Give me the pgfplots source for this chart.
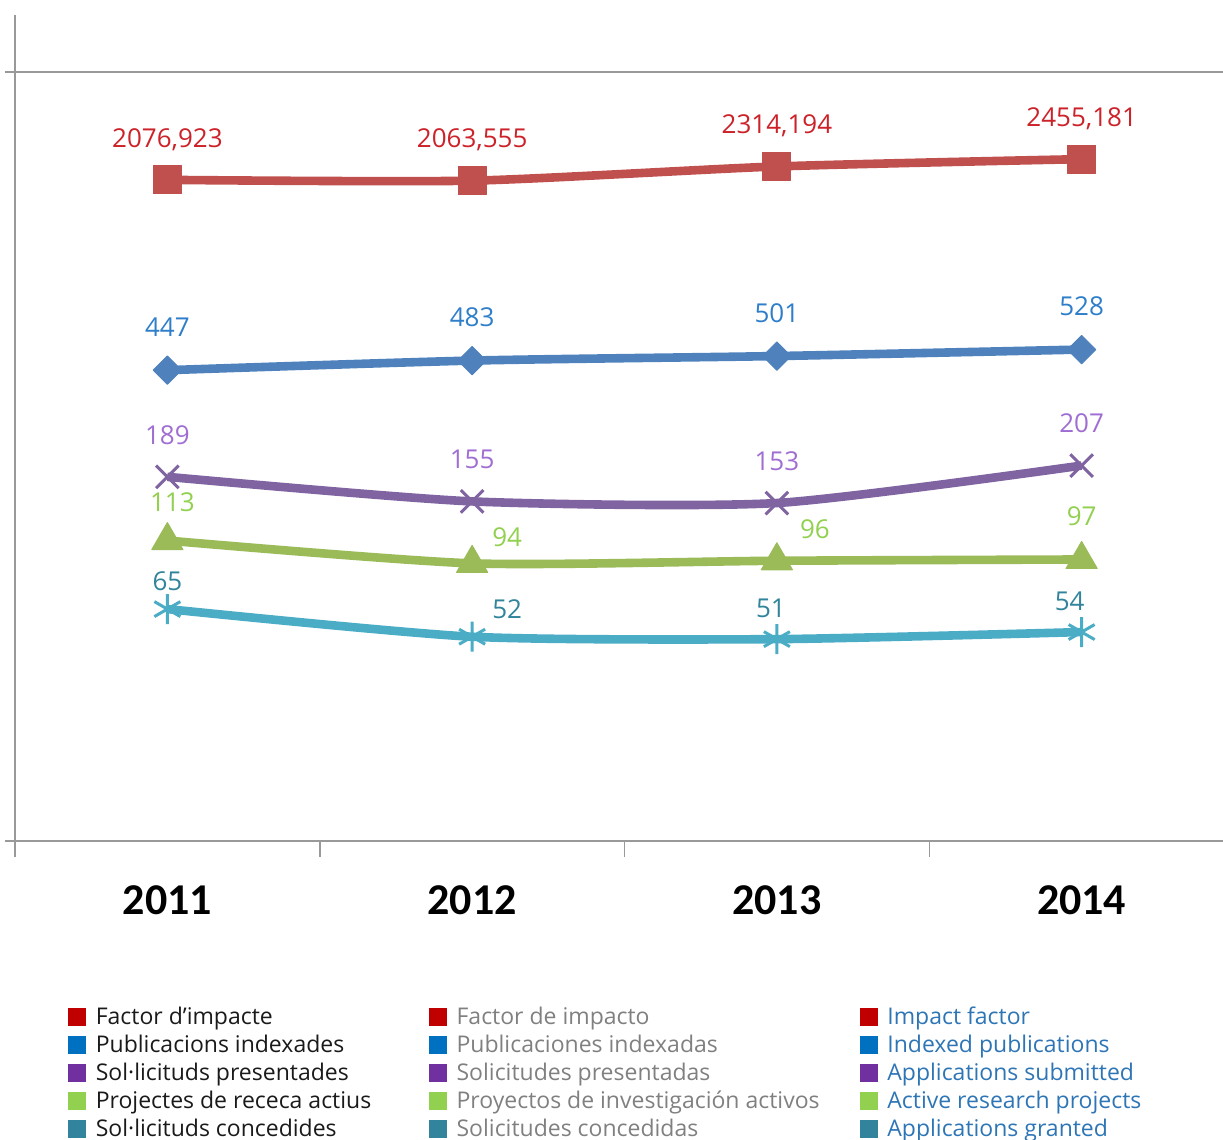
\documentclass[border=0pt]{standalone}
\usepackage{pgfplots}
\pgfplotsset{compat=1.18}
\usepackage{fontspec}
\setmainfont{Open Sans}
\newfontfamily\yearfont{Carlito}

\definecolor{lred}{HTML}{C0504D}
\definecolor{lblue}{HTML}{4F81BD}
\definecolor{lpurple}{HTML}{8064A2}
\definecolor{lgreen}{HTML}{9BBB59}
\definecolor{lteal}{HTML}{4BACC6}
\definecolor{tred}{HTML}{CC2229}
\definecolor{tblue}{HTML}{2E7EC9}
\definecolor{tpurple}{HTML}{A06ED2}
\definecolor{tgreen}{HTML}{92D050}
\definecolor{tteal}{HTML}{31849B}
\definecolor{sred}{HTML}{C00000}
\definecolor{sblue}{HTML}{0070C0}
\definecolor{spurple}{HTML}{7030A0}
\definecolor{sgreen}{HTML}{92D050}
\definecolor{steal}{HTML}{31849B}
\definecolor{legblack}{HTML}{1A1A1A}
\definecolor{leggray}{HTML}{808080}
\definecolor{legblue}{HTML}{2E75B6}

\newcommand{\cA}[1]{\makebox[161.5pt][l]{\textcolor{legblack}{#1}}}
\newcommand{\cB}[1]{\makebox[196.5pt][l]{\textcolor{leggray}{#1}}}
\newcommand{\cC}[1]{\makebox[150pt][l]{\textcolor{legblue}{#1}}}

\pgfplotsset{
  lab/.style n args={3}{forget plot, draw=none, mark=none,
    nodes near coords, point meta=explicit symbolic,
    nodes near coords style={anchor=center, inner sep=0pt, text height=9.3pt, text depth=0pt,
      font=\fontsize{13}{13}\selectfont, xshift=#2*0.5pt, yshift=#3*0.5pt, color=#1}},
  ser/.style={smooth, tension=0.4, color=#1, line width=4.3pt, line join=round},
}

\begin{document}
\begin{tikzpicture}
\path[use as bounding box] (0pt,0pt) rectangle (611.5pt,570pt);
\clip (0pt,0pt) rectangle (611.5pt,570pt);
\begin{axis}[
  at={(7.5pt,149.5pt)}, anchor=south west,
  scale only axis, width=609.5pt, height=413pt,
  xmin=-0.5, xmax=3.5,
  ymode=log, ymin=10, ymax=7860,
  axis x line*=bottom, axis y line*=left,
  axis line style={-, draw=black!40, line width=0.75pt},
  xtick={-0.5,0.5,1.5,2.5}, xticklabels={,,,},
  ytick=\empty, yminorticks=false, xminorticks=false,
  major tick length=8pt, tick align=outside,
  tick style={draw=black!40, line width=0.75pt},
  extra x ticks={0,1,2,3}, extra x tick labels={2011,2012,2013,2014},
  extra x tick style={major tick length=0pt,
    xticklabel style={font=\yearfont\bfseries\fontsize{22}{22}\selectfont,
      anchor=center, yshift=-30pt, inner sep=0pt, text height=14pt, text depth=0pt}},
  extra y ticks={10,4960}, extra y tick labels={,},
  extra y tick style={major tick length=5pt, grid=major},
  major grid style={draw=black!40, line width=0.75pt},
  legend columns=5, transpose legend,
  legend image code/.code={\fill[#1] (0pt,-4.25pt) rectangle (8.5pt,4.25pt);},
  legend style={draw=none, fill=none, inner sep=0pt, outer sep=0pt,
    at={(0.04348,-0.1961)}, anchor=north west,
    column sep=5pt, row sep=0pt,
    font=\fontsize{11.5}{14}\selectfont,
    nodes={inner sep=0pt, text height=11pt, text depth=3pt}},
  legend cell align=left,
]
% series
\addplot[forget plot, ser=lred,
  mark=square*, mark size=7pt, mark options={fill=lred, draw=lred, line width=0.5pt}]
  coordinates {(0,2076.923) (1,2063.555) (2,2314.194) (3,2455.181)};
\addplot[forget plot, ser=lblue,
  mark=square*, mark size=5pt, mark options={rotate=45, fill=lblue, draw=lblue, line width=0.5pt}]
  coordinates {(0,447) (1,483) (2,501) (3,528)};
\addplot[forget plot, ser=lpurple,
  mark=x, mark size=8pt, mark options={draw=lpurple, line width=1.5pt}]
  coordinates {(0,189) (1,155) (2,153) (3,207)};
\addplot[forget plot, ser=lgreen,
  mark=triangle*, mark size=9pt, mark options={fill=lgreen, draw=lgreen, line width=0.5pt}]
  coordinates {(0,113) (1,94) (2,96) (3,97)};
\addplot[forget plot, ser=lteal,
  mark=asterisk, mark size=7.5pt, mark options={draw=lteal, line width=1.5pt}]
  coordinates {(0,65) (1,52) (2,51) (3,54)};
% data labels
\addplot[lab={tred}{0}{42}] coordinates {(0,2076.923) [2076,923] (1,2063.555) [2063,555] (2,2314.194) [2314,194] (3,2455.181) [2455,181]};
\addplot[lab={tblue}{0}{43}] coordinates {(0,447) [447] (1,483) [483] (2,501) [501] (3,528) [528]};
\addplot[lab={tpurple}{0}{42}] coordinates {(0,189) [189] (1,155) [155] (2,153) [153] (3,207) [207]};
\addplot[lab={tgreen}{5}{38}] coordinates {(0,113) [113]};
\addplot[lab={tgreen}{35}{26}] coordinates {(1,94) [94]};
\addplot[lab={tgreen}{38}{32}] coordinates {(2,96) [96]};
\addplot[lab={tgreen}{0}{43}] coordinates {(3,97) [97]};
\addplot[lab={tteal}{0}{28}] coordinates {(0,65) [65]};
\addplot[lab={tteal}{35}{28}] coordinates {(1,52) [52]};
\addplot[lab={tteal}{-6}{31}] coordinates {(2,51) [51]};
\addplot[lab={tteal}{-12}{31}] coordinates {(3,54) [54]};
% legend
\addlegendimage{sred}\addlegendentry{\cA{Factor d’impacte}}
\addlegendimage{sblue}\addlegendentry{\cA{Publicacions indexades}}
\addlegendimage{spurple}\addlegendentry{\cA{Sol·licituds presentades}}
\addlegendimage{sgreen}\addlegendentry{\cA{Projectes de receca actius}}
\addlegendimage{steal}\addlegendentry{\cA{Sol·licituds concedides}}
\addlegendimage{sred}\addlegendentry{\cB{Factor de impacto}}
\addlegendimage{sblue}\addlegendentry{\cB{Publicaciones indexadas}}
\addlegendimage{spurple}\addlegendentry{\cB{Solicitudes presentadas}}
\addlegendimage{sgreen}\addlegendentry{\cB{Proyectos de investigación activos}}
\addlegendimage{steal}\addlegendentry{\cB{Solicitudes concedidas}}
\addlegendimage{sred}\addlegendentry{\cC{Impact factor}}
\addlegendimage{sblue}\addlegendentry{\cC{Indexed publications}}
\addlegendimage{spurple}\addlegendentry{\cC{Applications submitted}}
\addlegendimage{sgreen}\addlegendentry{\cC{Active research projects}}
\addlegendimage{steal}\addlegendentry{\cC{Applications granted}}
\end{axis}
\end{tikzpicture}
\end{document}
